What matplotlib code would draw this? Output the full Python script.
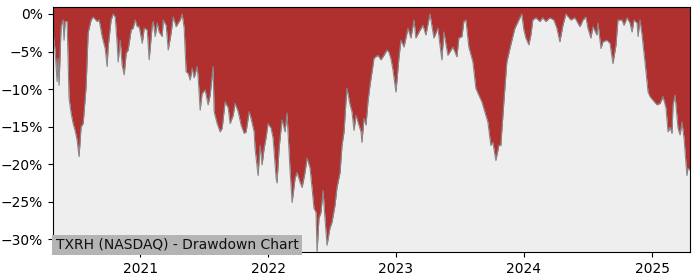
import matplotlib
matplotlib.use("Agg")
import matplotlib.pyplot as plt
import matplotlib.dates as mdates
from matplotlib.ticker import PercentFormatter
from datetime import datetime, timedelta
import numpy as np

title = "TXRH (NASDAQ) - Drawdown Chart"

# decimal-year dates and drawdown in percent
years = [
    2020.320, 2020.336, 2020.352, 2020.359, 2020.367, 2020.383, 2020.398, 2020.406, 2020.414, 2020.430,
    2020.445, 2020.461, 2020.477, 2020.492, 2020.508, 2020.523, 2020.539, 2020.555, 2020.578, 2020.594,
    2020.617, 2020.633, 2020.664, 2020.680, 2020.703, 2020.727, 2020.742, 2020.750, 2020.773, 2020.789,
    2020.805, 2020.820, 2020.828, 2020.844, 2020.859, 2020.875, 2020.891, 2020.906, 2020.930, 2020.945,
    2020.961, 2020.977, 2020.992, 2021.016, 2021.031, 2021.055, 2021.070, 2021.094, 2021.102, 2021.117,
    2021.133, 2021.148, 2021.172, 2021.180, 2021.203, 2021.219, 2021.242, 2021.258, 2021.281, 2021.297,
    2021.313, 2021.328, 2021.344, 2021.359, 2021.375, 2021.391, 2021.406, 2021.422, 2021.445, 2021.453,
    2021.469, 2021.484, 2021.508, 2021.531, 2021.547, 2021.570, 2021.578, 2021.602, 2021.625, 2021.641,
    2021.664, 2021.688, 2021.703, 2021.727, 2021.742, 2021.766, 2021.789, 2021.813, 2021.828, 2021.852,
    2021.867, 2021.891, 2021.898, 2021.922, 2021.938, 2021.953, 2021.969, 2021.984, 2022.000, 2022.023,
    2022.039, 2022.063, 2022.070, 2022.086, 2022.109, 2022.133, 2022.148, 2022.172, 2022.188, 2022.211,
    2022.227, 2022.250, 2022.266, 2022.289, 2022.305, 2022.328, 2022.344, 2022.359, 2022.375, 2022.383,
    2022.398, 2022.414, 2022.430, 2022.445, 2022.461, 2022.484, 2022.500, 2022.523, 2022.539, 2022.563,
    2022.578, 2022.594, 2022.609, 2022.617, 2022.641, 2022.656, 2022.672, 2022.688, 2022.703, 2022.727,
    2022.734, 2022.750, 2022.766, 2022.781, 2022.797, 2022.813, 2022.828, 2022.859, 2022.883, 2022.906,
    2022.930, 2022.945, 2022.961, 2022.977, 2023.000, 2023.023, 2023.039, 2023.063, 2023.094, 2023.117,
    2023.141, 2023.156, 2023.180, 2023.211, 2023.234, 2023.266, 2023.297, 2023.328, 2023.359, 2023.375,
    2023.406, 2023.445, 2023.477, 2023.492, 2023.516, 2023.531, 2023.547, 2023.570, 2023.602, 2023.625,
    2023.648, 2023.672, 2023.695, 2023.719, 2023.742, 2023.758, 2023.781, 2023.805, 2023.820, 2023.844,
    2023.867, 2023.898, 2023.930, 2023.969, 2023.984, 2024.000, 2024.016, 2024.039, 2024.055, 2024.070,
    2024.094, 2024.125, 2024.148, 2024.172, 2024.203, 2024.234, 2024.258, 2024.281, 2024.305, 2024.328,
    2024.367, 2024.398, 2024.438, 2024.461, 2024.484, 2024.500, 2024.523, 2024.539, 2024.570, 2024.578,
    2024.602, 2024.617, 2024.648, 2024.672, 2024.695, 2024.719, 2024.734, 2024.766, 2024.781, 2024.805,
    2024.828, 2024.844, 2024.859, 2024.883, 2024.891, 2024.906, 2024.922, 2024.945, 2024.969, 2024.984,
    2025.008, 2025.039, 2025.063, 2025.086, 2025.109, 2025.125, 2025.141, 2025.156, 2025.164, 2025.180,
    2025.203, 2025.219, 2025.234, 2025.250, 2025.273, 2025.281, 2025.297,
]

drawdown = [
    -2.5, -4.8, -9.0, -5.9, -9.5, -1.7, -0.8, -3.5, -1.0, -1.0,
    -11.2, -13.2, -14.6, -15.5, -16.8, -19.0, -15.0, -14.6, -9.7, -2.5,
    -0.8, -0.4, -1.0, -0.8, -3.0, -4.6, -7.0, -4.4, -0.8, 0.0,
    -0.4, -3.9, -6.4, -3.5, -6.8, -8.1, -5.2, -4.8, -2.1, -1.9,
    -0.8, -1.7, -1.7, -3.9, -1.9, -2.1, -6.1, -1.5, -1.0, -3.0,
    -1.2, -2.4, -3.0, -0.8, -1.5, -4.8, -2.5, -0.4, -1.7, -1.2,
    -0.8, 0.0, -1.9, -7.7, -7.9, -8.8, -7.2, -8.5, -7.0, -8.4,
    -12.8, -10.6, -10.1, -12.1, -10.8, -7.0, -13.0, -14.6, -15.7, -15.2,
    -11.7, -12.5, -14.6, -13.5, -11.9, -13.0, -14.8, -15.9, -15.7, -13.0,
    -13.9, -15.7, -17.9, -21.5, -17.5, -20.1, -17.9, -16.5, -14.6, -15.2,
    -16.5, -21.9, -22.5, -17.9, -14.1, -15.7, -13.2, -20.8, -25.1, -21.9,
    -21.1, -22.4, -23.1, -21.1, -19.2, -20.5, -23.2, -25.9, -26.4, -31.7,
    -27.2, -26.4, -23.5, -27.2, -30.8, -28.5, -27.7, -25.5, -23.1, -21.1,
    -17.5, -15.7, -11.7, -9.9, -12.1, -13.0, -15.5, -13.5, -14.4, -15.7,
    -17.1, -13.9, -14.8, -11.7, -9.5, -7.7, -5.9, -5.5, -6.1, -5.5,
    -4.8, -5.1, -6.0, -7.5, -10.4, -5.9, -3.5, -4.4, -1.9, -3.2,
    -0.8, -3.2, -2.4, -1.5, -2.8, 0.0, -3.2, -1.9, -6.1, -2.4,
    -5.5, -4.4, -5.7, -3.2, -3.0, -1.0, -0.8, -4.4, -6.4, -9.9,
    -10.8, -11.7, -13.0, -14.4, -17.5, -17.1, -19.5, -17.5, -17.5, -11.7,
    -6.4, -4.1, -1.9, -0.5, 0.0, -2.1, -3.2, -4.1, -2.8, -0.8,
    -0.5, -1.0, -0.5, -1.0, -0.5, -0.8, -1.9, -3.7, -1.5, 0.0,
    -0.8, -0.5, -1.7, -0.8, -0.4, -1.9, -3.2, -1.7, -2.8, -1.2,
    -4.6, -3.7, -3.5, -3.9, -6.6, -4.1, -0.8, -0.8, -1.5, -0.5,
    -1.2, -2.4, -0.8, -1.2, -3.0, -0.8, -2.8, -6.4, -10.4, -11.0,
    -11.5, -12.1, -11.9, -11.0, -12.5, -15.7, -15.1, -15.9, -12.1, -10.8,
    -15.2, -16.1, -14.4, -16.5, -21.5, -20.5, -20.8,
]


def to_date(y):
    yr = int(np.floor(y))
    start = datetime(yr, 1, 1)
    days = (datetime(yr + 1, 1, 1) - start).days
    return start + timedelta(days=(y - yr) * days)


dates = [to_date(y) for y in years]
dd = np.array(drawdown)

fig = plt.figure(figsize=(7, 2.8), dpi=100)
ax = fig.add_axes([53 / 700, 1 - 252 / 280, 637 / 700, 245 / 280])
ax.set_facecolor("#eeeeee")

top = 0.93
ax.fill_between(dates, dd, top, color="#b03030", linewidth=0)
ax.plot(dates, dd, color="#888888", linewidth=0.8)

ax.set_xlim(dates[0], dates[-1])
ax.set_ylim(dd.min(), top)
ax.yaxis.set_major_locator(matplotlib.ticker.MultipleLocator(5))
ax.yaxis.set_major_formatter(PercentFormatter(xmax=100, decimals=0))
ax.xaxis.set_major_locator(mdates.YearLocator())
ax.xaxis.set_major_formatter(mdates.DateFormatter("%Y"))
ax.tick_params(labelsize=10)

ax.text(0.004, 0.0, title, transform=ax.transAxes, ha="left", va="bottom",
        fontsize=10, color="#111111",
        bbox=dict(facecolor="#b4b4b4", edgecolor="none", pad=2.5))

fig.savefig("out.png", dpi=100)
